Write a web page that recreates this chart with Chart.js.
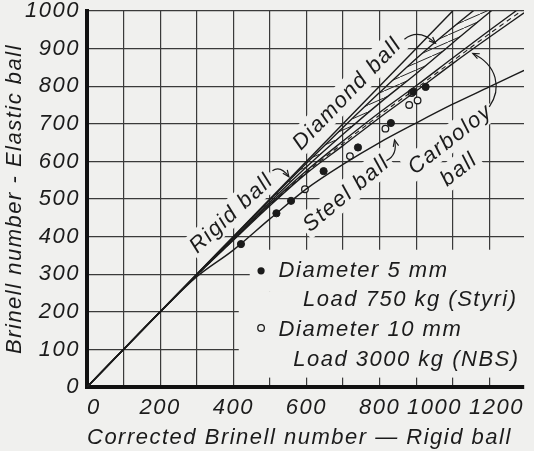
<!DOCTYPE html>
<html><head><meta charset="utf-8">
<script src="https://cdn.jsdelivr.net/npm/chart.js@4.4.1/dist/chart.umd.min.js"></script>
<style>
html,body{margin:0;padding:0;background:#f0f0ee;}
#wrap{width:534px;height:451px;position:relative;overflow:hidden;}
</style></head>
<body><div id="wrap"><canvas id="c" width="534" height="451"></canvas></div>
<script>
// ---------------- data ----------------
const curveX         = [0, 200, 300, 400, 500, 600, 700, 800, 900, 1000, 1100, 1195];
const rigidX         = [0, 1000];
const rigidY         = [0, 1000];
const diamondUpperY  = [0, 200, 300, 399, 498, 595, 690, 783, 873, 956, 1034, 1105];
const diamondLowerY  = [0, 200, 299, 396, 492, 585, 672, 755, 833, 915, 996, 1070];
const carboloyUpperY = [0, 200, 298, 393, 487, 575, 654, 730, 801, 875, 948, 1016];
const carboloyMidY   = [0, 200, 297, 391, 484, 571, 648, 723, 794, 867, 939, 1005];
const carboloyLowerY = [0, 200, 297, 390, 482, 568, 642, 716, 787, 860, 930, 995];
const steelY         = [0, 199, 293, 364, 447, 527, 592, 650, 702, 752, 798, 842];
const styriX = [421, 518, 558, 647, 741, 831, 892, 926];
const styriY = [380, 462, 495, 574, 637, 702, 785, 798];
const nbsX   = [596, 719, 816, 881, 904, 888];
const nbsY   = [526, 614, 687, 750, 762, 782];
const yTickValues = [0, 100, 200, 300, 400, 500, 600, 700, 800, 900, 1000];
const xGridValues = [0, 100, 200, 300, 400, 500, 600, 700, 800, 900, 1000, 1100];
// tick labels as printed (the scan places "1000" and "1200" left of their grid lines)
const xLabelValues = [0, 200, 400, 600, 800, 950, 1195];
const xLabelTexts  = ['0', '200', '400', '600', '800', '1000', '1200'];
const xTitle = 'Corrected Brinell number \u2014 Rigid ball';
const yTitle = 'Brinell number - Elastic ball';
const legendLines = ['Diameter 5 mm', 'Load 750 kg (Styri)', 'Diameter 10 mm', 'Load 3000 kg (NBS)'];

// ---------------- annotation layout (data units) ----------------
const notes = [
  {text: 'Diamond ball', x: 710, y: 781, angle: 46},
  {text: 'Rigid ball',   x: 394, y: 463, angle: 43},
  {text: 'Steel ball',   x: 708, y: 515, angle: 40},
  {text: 'Carboloy',     x: 992, y: 660, angle: 38},
  {text: 'ball',         x: 1016, y: 580, angle: 38}
];
const arrows = [
  [[868, 925], [908, 955], [953, 914]],
  [[507, 575], [529, 590], [552, 559]],
  [[819, 602], [850, 617], [841, 657]],
  [[1100, 745], [1135, 794], [1122, 856], [1055, 887]]
];
const legendMask = [[415, 1200, 25, 255], [445, 1200, 255, 365]];
const legendPos = {marker1: [476, 309], marker2: [476, 157],
  text: [[524, 293], [591, 215], [524, 136], [564, 56]]};

// ---------------- styles ----------------
const PAPER = '#f0f0ee', INK = '#1b1b1b', GRID = '#3a3a3a';
const FONT = "'Liberation Sans', Arial, sans-serif";
Chart.defaults.font.family = FONT;
Chart.defaults.color = INK;

function pts(xs, ys) { return xs.map((v, i) => ({x: v, y: ys[i]})); }

function hatch() {
  const c = document.createElement('canvas'); c.width = 16; c.height = 7;
  const g = c.getContext('2d');
  g.strokeStyle = '#2a2a2a'; g.lineWidth = 1;
  [-16, 0, 16].forEach(ox => {
    g.beginPath(); g.moveTo(ox, 7); g.lineTo(ox + 16, 0); g.stroke();
  });
  return g.createPattern(c, 'repeat');
}

const curve = (data, extra) => Object.assign({
  data, borderColor: INK, borderWidth: 1.4, pointRadius: 0, fill: false,
  cubicInterpolationMode: 'monotone'
}, extra || {});

const allXTicks = xGridValues.concat(xLabelValues.filter(v => xGridValues.indexOf(v) < 0)).sort((a, b) => a - b);

const annot = {
  id: 'annot',
  beforeUpdate(chart) { chart.ctx.letterSpacing = '1.5px'; },
  beforeDraw(chart) { chart.ctx.letterSpacing = '1.5px'; },
  beforeDatasetsDraw(chart) {
    const {ctx, scales: {x, y}} = chart;
    ctx.save();
    ctx.fillStyle = PAPER;
    legendMask.forEach(([x0, x1, y0, y1]) => {
      const a = x.getPixelForValue(x0), b = x.getPixelForValue(x1);
      const t = y.getPixelForValue(y1), u = y.getPixelForValue(y0);
      ctx.fillRect(a, t, b - a, u - t);
    });
    ctx.font = 'italic 22px ' + FONT;
    ctx.letterSpacing = '1.5px';
    notes.forEach(n => {
      ctx.save();
      ctx.translate(x.getPixelForValue(n.x), y.getPixelForValue(n.y));
      ctx.rotate(-n.angle * Math.PI / 180);
      const w = ctx.measureText(n.text).width;
      ctx.fillStyle = PAPER;
      ctx.fillRect(-w / 2 - 3, -13, w + 6, 26);
      ctx.fillStyle = INK; ctx.textAlign = 'center'; ctx.textBaseline = 'middle';
      ctx.fillText(n.text, 0, 1);
      ctx.restore();
    });
    // legend
    ctx.fillStyle = INK; ctx.textAlign = 'left'; ctx.textBaseline = 'alphabetic';
    legendLines.forEach((t, i) => {
      ctx.fillText(t, x.getPixelForValue(legendPos.text[i][0]), y.getPixelForValue(legendPos.text[i][1]));
    });
    const m1 = legendPos.marker1, m2 = legendPos.marker2;
    ctx.beginPath(); ctx.arc(x.getPixelForValue(m1[0]), y.getPixelForValue(m1[1]), 3.6, 0, Math.PI * 2);
    ctx.fill();
    ctx.beginPath(); ctx.arc(x.getPixelForValue(m2[0]), y.getPixelForValue(m2[1]), 3.3, 0, Math.PI * 2);
    ctx.strokeStyle = INK; ctx.lineWidth = 1.3; ctx.stroke();
    ctx.restore();
  },
  afterDatasetsDraw(chart) {
    const {ctx, scales: {x, y}} = chart;
    ctx.save();
    ctx.strokeStyle = INK; ctx.lineWidth = 1.2;
    arrows.forEach(a => {
      const p = a.map(([u, v]) => [x.getPixelForValue(u), y.getPixelForValue(v)]);
      ctx.beginPath(); ctx.moveTo(p[0][0], p[0][1]);
      if (p.length === 3) ctx.quadraticCurveTo(p[1][0], p[1][1], p[2][0], p[2][1]);
      else ctx.bezierCurveTo(p[1][0], p[1][1], p[2][0], p[2][1], p[3][0], p[3][1]);
      ctx.stroke();
      const e = p[p.length - 1], c = p[p.length - 2];
      const ang = Math.atan2(e[1] - c[1], e[0] - c[0]);
      ctx.beginPath();
      ctx.moveTo(e[0] - 7 * Math.cos(ang - 0.4), e[1] - 7 * Math.sin(ang - 0.4));
      ctx.lineTo(e[0], e[1]);
      ctx.lineTo(e[0] - 7 * Math.cos(ang + 0.4), e[1] - 7 * Math.sin(ang + 0.4));
      ctx.stroke();
    });
    ctx.restore();
  }
};

new Chart(document.getElementById('c'), {
  type: 'line',
  data: {
    datasets: [
      curve(pts(rigidX, rigidY)),
      curve(pts(curveX, diamondUpperY)),
      curve(pts(curveX, diamondLowerY), {fill: '-1', backgroundColor: hatch()}),
      curve(pts(curveX, carboloyUpperY)),
      curve(pts(curveX, carboloyMidY), {borderWidth: 1.1, borderDash: [5, 4]}),
      curve(pts(curveX, carboloyLowerY)),
      curve(pts(curveX, steelY)),
      {data: pts(styriX, styriY), showLine: false, pointRadius: 3.6, pointBackgroundColor: INK,
       pointBorderColor: INK, pointBorderWidth: 1},
      {data: pts(nbsX, nbsY), showLine: false, pointRadius: 3.3, pointBackgroundColor: PAPER,
       pointBorderColor: INK, pointBorderWidth: 1.3}
    ]
  },
  options: {
    responsive: false, animation: false, devicePixelRatio: 1,
    layout: {padding: 0},
    plugins: {legend: {display: false}, tooltip: {enabled: false}},
    scales: {
      x: {
        type: 'linear', min: 0, max: 1195,
        afterBuildTicks: s => { s.ticks = allXTicks.map(v => ({value: v})); },
        afterFit: s => { s.height = 64; },
        ticks: {
          align: 'inner', padding: 10, autoSkip: false, maxRotation: 0, color: INK,
          font: {size: 22, style: 'italic', lineHeight: 1},
          callback: v => { const i = xLabelValues.indexOf(v); return i >= 0 ? xLabelTexts[i] : ''; }
        },
        grid: {color: c => (c.tick && xGridValues.indexOf(c.tick.value) < 0) ? 'rgba(0,0,0,0)' : GRID,
               lineWidth: 1.2, drawTicks: false},
        border: {color: '#111', width: 4},
        title: {display: true, text: xTitle, align: 'start', color: INK,
                font: {size: 22, style: 'italic', lineHeight: 1.2}, padding: {top: 0, bottom: 0}}
      },
      y: {
        type: 'linear', min: 0, max: 1000,
        afterBuildTicks: s => { s.ticks = yTickValues.map(v => ({value: v})); },
        afterFit: s => { s.width = 87; },
        ticks: {padding: 7, color: INK, font: {size: 22, style: 'italic', lineHeight: 0.36},
                callback: v => String(v)},
        grid: {color: GRID, lineWidth: 1.2, drawTicks: false},
        border: {color: '#111', width: 4},
        title: {display: true, text: yTitle, color: INK,
                font: {size: 22, style: 'italic', lineHeight: 1.2}, padding: {top: 2, bottom: 0}}
      }
    }
  },
  plugins: [annot]
});
</script>
</body></html>
